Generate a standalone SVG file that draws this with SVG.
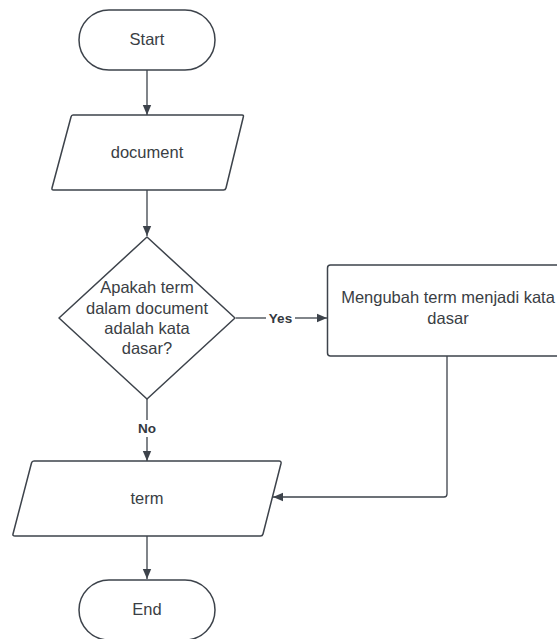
<svg xmlns="http://www.w3.org/2000/svg" width="557" height="639" viewBox="0 0 557 639">
  <style>
    .shape { fill: #ffffff; stroke: #3d434b; stroke-width: 1.5; stroke-linejoin: round; }
    .label { font-family: "Liberation Sans", Arial, sans-serif; font-size: 16.5px; fill: #3a3e44; text-anchor: middle; dominant-baseline: central; }
    .edge { fill: none; stroke: #3d434b; stroke-width: 1.3; }
    .edge-label { font-family: "Liberation Sans", Arial, sans-serif; font-size: 13.5px; font-weight: bold; fill: #333840; text-anchor: middle; dominant-baseline: central; }
  </style>
  <defs>
    <marker id="arrow" viewBox="0 0 10 10" refX="10" refY="5" markerWidth="10" markerHeight="10" markerUnits="userSpaceOnUse" orient="auto">
      <path d="M0,0.8 L10,5 L0,9.2 Z" fill="#3d434b"/>
    </marker>
  </defs>
  <rect width="557" height="639" fill="#ffffff"/>

  <g id="connectors">
    <path class="edge" d="M147,70 V115" marker-end="url(#arrow)"/>
    <path class="edge" d="M147,190 V236" marker-end="url(#arrow)"/>
    <path class="edge" d="M236,318 H266"/>
    <path class="edge" d="M295,318 H327" marker-end="url(#arrow)"/>
    <text class="edge-label" x="280.5" y="318">Yes</text>
    <path class="edge" d="M147,399 V420"/>
    <path class="edge" d="M147,437 V461" marker-end="url(#arrow)"/>
    <text class="edge-label" x="147" y="428.5">No</text>
    <path class="edge" d="M447,356 V494 Q447,497 444,497 H273" marker-end="url(#arrow)"/>
    <path class="edge" d="M147,536 V579" marker-end="url(#arrow)"/>
  </g>

  <g id="start">
    <rect class="shape" x="79" y="10" width="136" height="60" rx="30" ry="30"/>
    <text class="label" x="147" y="39">Start</text>
  </g>

  <g id="document">
    <path class="shape" d="M73,115 H242 Q244,115 243.3,117 L226,188 Q225.5,190 223.5,190 H53.5 Q51.5,190 52,188 L71,117 Q71.5,115 73,115 Z"/>
    <text class="label" x="147" y="151.5">document</text>
  </g>

  <g id="decision">
    <path class="shape" d="M147,237 L235,318 L147,399 L59,318 Z"/>
    <text class="label" x="147" y="287">Apakah term</text>
    <text class="label" x="147" y="307.5">dalam document</text>
    <text class="label" x="147" y="328">adalah kata</text>
    <text class="label" x="147" y="348">dasar?</text>
  </g>

  <g id="process">
    <rect class="shape" x="327.5" y="265" width="242" height="91" rx="3" ry="3"/>
    <text class="label" x="448" y="297">Mengubah term menjadi kata</text>
    <text class="label" x="448" y="317.5">dasar</text>
  </g>

  <g id="term">
    <path class="shape" d="M34,461 H279 Q281.5,461 281,463.5 L263,534 Q262.5,536 260.5,536 H15 Q12.5,536 13,534 L31.5,463 Q32,461 34,461 Z"/>
    <text class="label" x="147" y="497.5">term</text>
  </g>

  <g id="end">
    <rect class="shape" x="79" y="580" width="136" height="60" rx="30" ry="30"/>
    <text class="label" x="147" y="609">End</text>
  </g>
</svg>
